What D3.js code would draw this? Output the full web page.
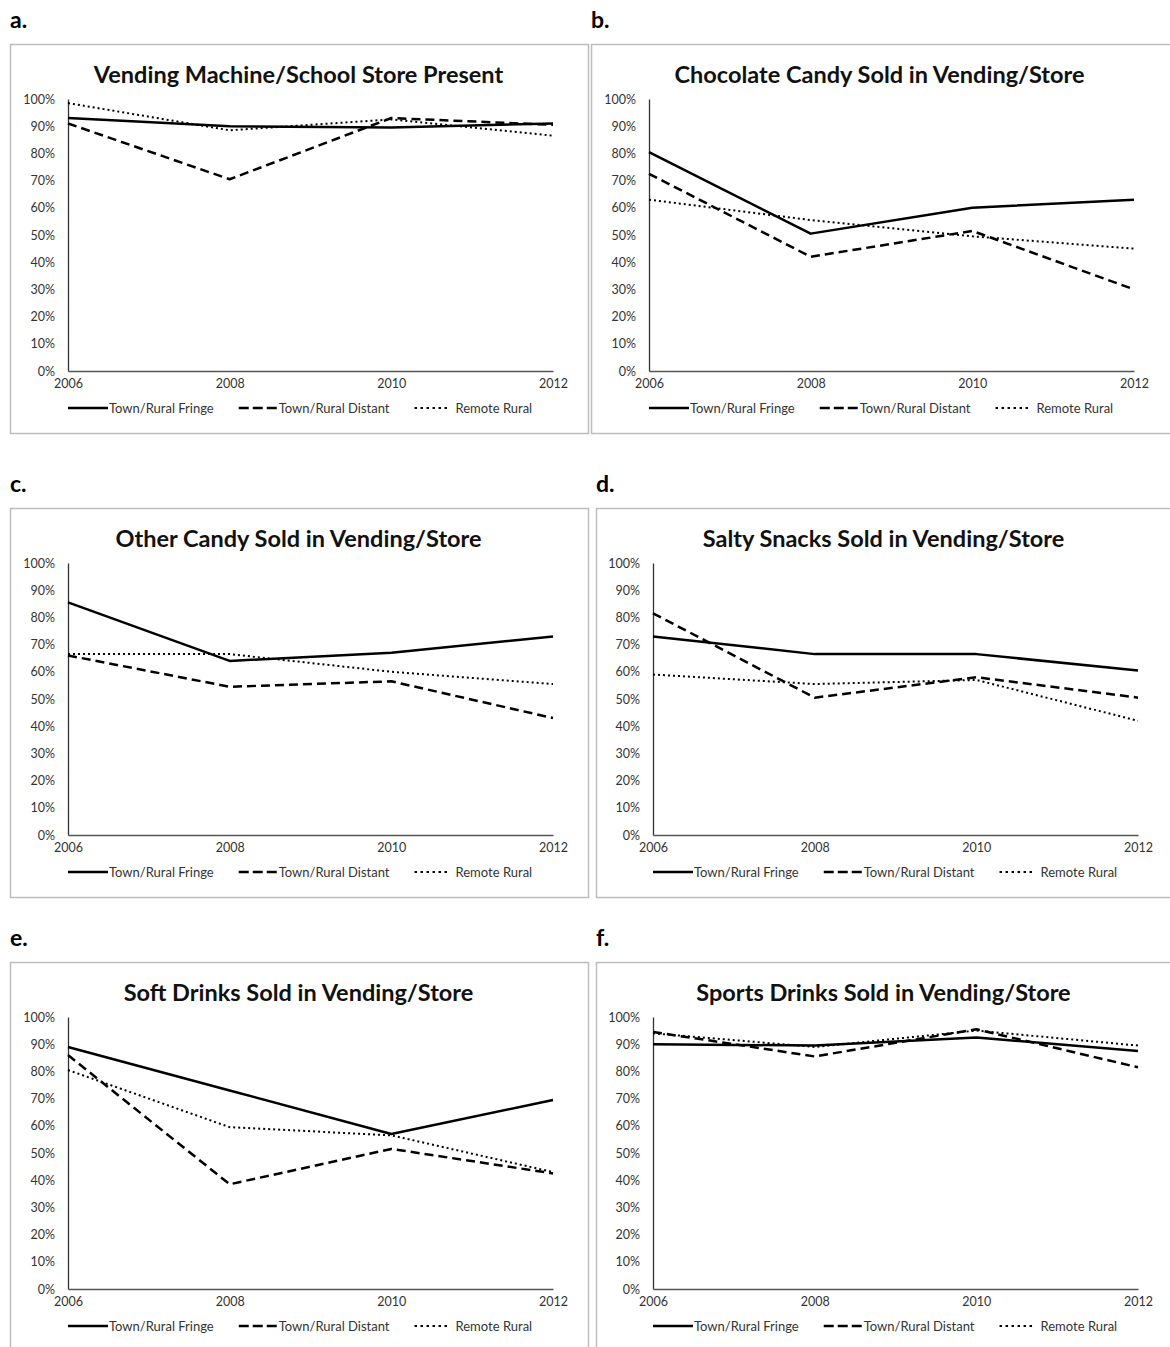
<!DOCTYPE html>
<html>
<head>
<meta charset="utf-8">
<script src="https://cdn.jsdelivr.net/npm/d3@7"></script>
<style>
  body { margin: 0; background: #fff; }
  text { font-family: Lato, "Open Sans", sans-serif; }
</style>
</head>
<body>
<div id="chart"></div>
<script>
const years = [2006, 2008, 2010, 2012];
const seriesNames = ["Town/Rural Fringe", "Town/Rural Distant", "Remote Rural"];
const yTicks = [0, 10, 20, 30, 40, 50, 60, 70, 80, 90, 100];

// percent values, one row per series: fringe, distant, remote
const vendingPresent = [[93, 90, 89.5, 91], [91, 70.5, 93, 90.5], [98.5, 88.5, 92.5, 86.5]];
const chocolateCandy = [[80.5, 50.5, 60, 63], [72.5, 42, 51.5, 30], [63, 55.5, 49.5, 45]];
const otherCandy = [[85.5, 64, 67, 73], [66, 54.5, 56.5, 43], [66.5, 66.5, 60, 55.5]];
const saltySnacks = [[73, 66.5, 66.5, 60.5], [81.5, 50.5, 58, 50.5], [59, 55.5, 57, 42]];
const softDrinks = [[89, 73, 57, 69.5], [86, 38.5, 51.5, 42.5], [80.5, 59.5, 56.5, 43]];
const sportsDrinks = [[90, 89.5, 92.5, 87.5], [94.5, 85.5, 95.5, 81.5], [94, 89, 95, 89.5]];

const panelLabels = ["a.", "b.", "c.", "d.", "e.", "f."];
const panelTitles = [
    "Vending Machine/School Store Present",
    "Chocolate Candy Sold in Vending/Store",
    "Other Candy Sold in Vending/Store",
    "Salty Snacks Sold in Vending/Store",
    "Soft Drinks Sold in Vending/Store",
    "Sports Drinks Sold in Vending/Store"
];
const panelData = [vendingPresent, chocolateCandy, otherCandy, saltySnacks, softDrinks, sportsDrinks];

const WIDTH = 1170;
const HEIGHT = 1347;

// frame boxes and plot offsets
const layout = [
    {x: 10, y: 44, w: 578, plotX: 68},
    {x: 591, y: 44, w: 590, plotX: 649},
    {x: 10, y: 508, w: 578, plotX: 68},
    {x: 596, y: 508, w: 590, plotX: 653},
    {x: 10, y: 962, w: 578, plotX: 68},
    {x: 596, y: 962, w: 590, plotX: 653}
];
const FRAME_H = 389;
const PLOT_W = 485;
const PLOT_TOP = 55;
const PLOT_H = 272;

const dashes = [null, "9,5", "2,3"];
const legendDashes = [null, "10,4", "2.5,3.5"];
const widths = [2.5, 2.5, 2];

const svg = d3.select("#chart")
    .append("svg")
    .attr("width", WIDTH)
    .attr("height", HEIGHT);

function drawPanel(i) {
    const L = layout[i];
    const g = svg.append("g");

    g.append("text")
        .attr("x", L.x)
        .attr("y", L.y - 16)
        .attr("font-size", 23)
        .attr("font-weight", "bold")
        .text(panelLabels[i]);

    g.append("rect")
        .attr("x", L.x + 0.5)
        .attr("y", L.y + 0.5)
        .attr("width", L.w)
        .attr("height", FRAME_H)
        .attr("fill", "none")
        .attr("stroke", "#bdbdbd")
        .attr("stroke-width", 1.5);

    const x = d3.scalePoint().domain(years).range([L.plotX, L.plotX + PLOT_W]);
    const y = d3.scaleLinear().domain([0, 100]).range([L.y + PLOT_TOP + PLOT_H, L.y + PLOT_TOP]);

    g.append("text")
        .attr("x", L.plotX + PLOT_W / 2 - 12)
        .attr("y", L.y + 39)
        .attr("text-anchor", "middle")
        .attr("font-size", 23.5)
        .attr("font-weight", "bold")
        .attr("fill", "#111")
        .text(panelTitles[i]);

    // y axis
    const yAxis = g.append("g")
        .attr("transform", `translate(${L.plotX},0)`)
        .call(d3.axisLeft(y).tickValues(yTicks).tickSize(0).tickPadding(13).tickFormat(d => d + "%"));
    yAxis.select(".domain").attr("stroke", "#333").attr("stroke-width", 1.3);
    yAxis.selectAll("text").attr("font-size", 12.5).attr("fill", "#333").attr("font-family", "Lato, sans-serif");

    // x axis
    const xAxis = g.append("g")
        .attr("transform", `translate(0,${y(0)})`)
        .call(d3.axisBottom(x).tickSize(0).tickPadding(8));
    xAxis.select(".domain").attr("stroke", "#555").attr("stroke-width", 1.3);
    xAxis.selectAll("text").attr("font-size", 12.5).attr("fill", "#333").attr("font-family", "Lato, sans-serif");

    const line = d3.line()
        .x((d, j) => x(years[j]))
        .y(d => y(d));

    // draw remote first so solid sits on top
    [2, 1, 0].forEach(s => {
        g.append("path")
            .datum(panelData[i][s])
            .attr("d", line)
            .attr("fill", "none")
            .attr("stroke", "#000")
            .attr("stroke-width", widths[s])
            .attr("stroke-dasharray", dashes[s])
            .attr("stroke-linejoin", "round");
    });

    // legend
    const legY = L.y + 364;
    const sampleW = [40, 38, 35];
    const textGap = [1, 2, 6];
    let off = L.plotX;
    seriesNames.forEach((name, s) => {
        g.append("line")
            .attr("x1", off).attr("x2", off + sampleW[s])
            .attr("y1", legY).attr("y2", legY)
            .attr("stroke", "#000")
            .attr("stroke-width", widths[s])
            .attr("stroke-dasharray", legendDashes[s]);
        const t = g.append("text")
            .attr("x", off + sampleW[s] + textGap[s])
            .attr("y", legY + 4.5)
            .attr("font-size", 13)
            .attr("fill", "#333")
            .text(name);
        off += sampleW[s] + textGap[s] + t.node().getComputedTextLength() + 25;
    });
}

d3.range(6).forEach(drawPanel);
</script>
</body>
</html>
